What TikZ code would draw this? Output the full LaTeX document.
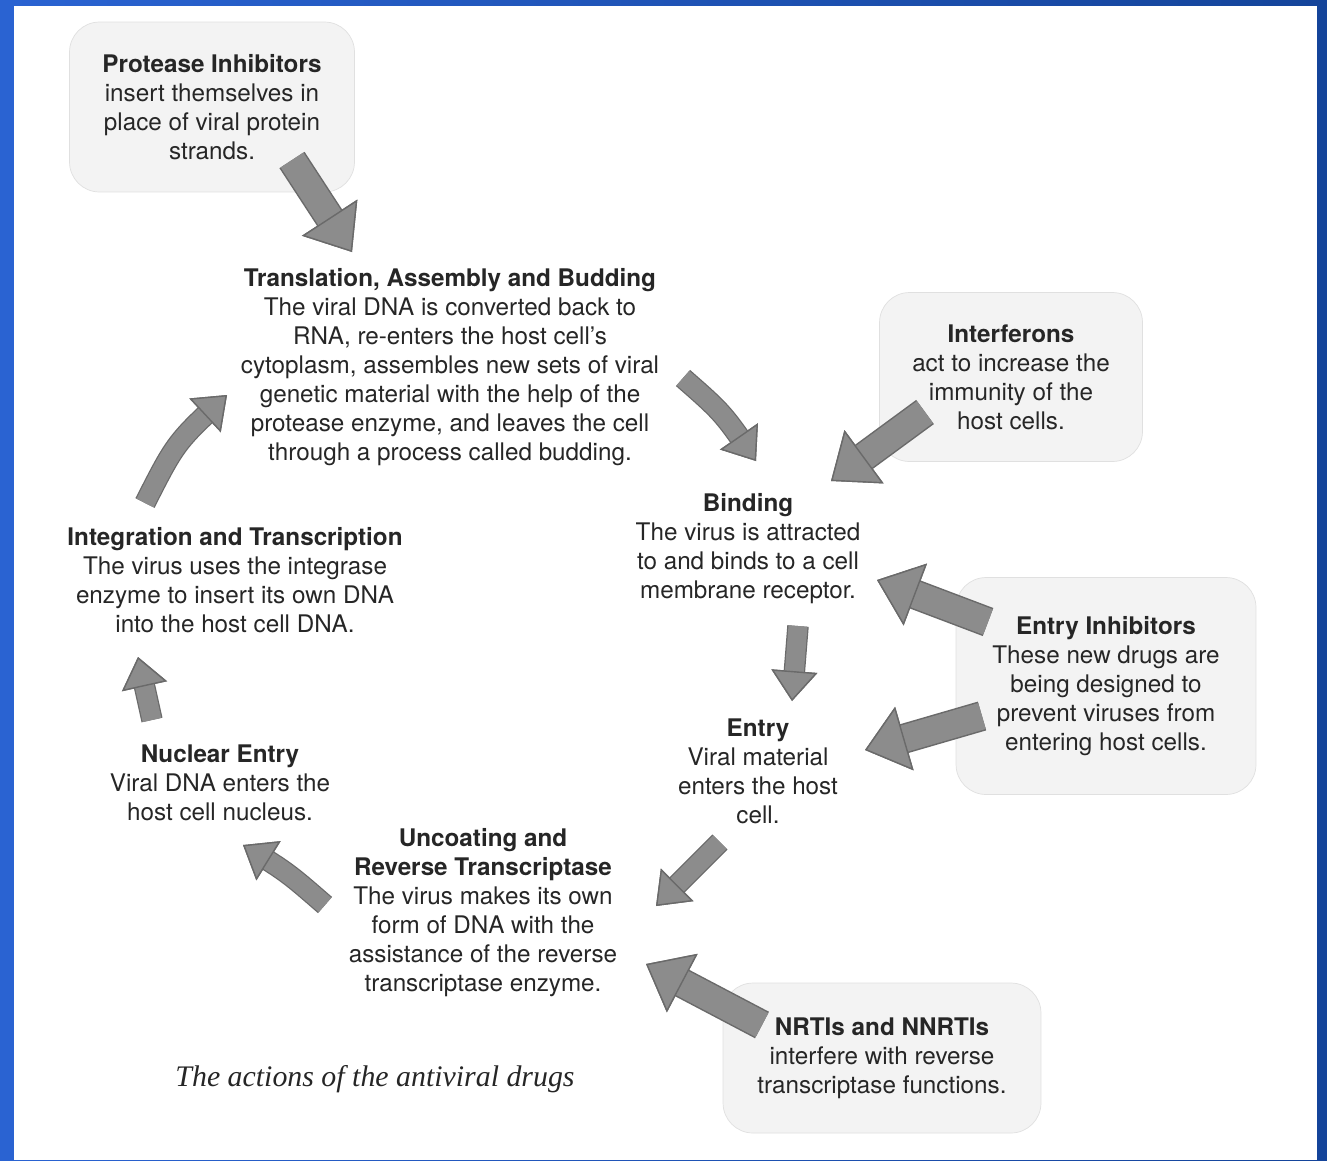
\documentclass[tikz,border=0pt]{standalone}
\usepackage{fontspec}
\setmainfont{TeX Gyre Heros}
\newfontfamily\capfont{Liberation Serif}
\usetikzlibrary{arrows.meta, bending, positioning}
\definecolor{bgleft}{HTML}{2A63D2}
\definecolor{bgright}{HTML}{14449A}
\definecolor{boxfill}{HTML}{F3F3F3}
\definecolor{boxedge}{HTML}{E0E0E0}
\definecolor{arrowfill}{HTML}{8C8C8C}
\definecolor{arrowedge}{HTML}{6A6A6A}
\definecolor{inktext}{HTML}{262626}
\tikzstyle{stage} = [align=center, inner sep=0pt, text=inktext, font=\fontsize{13.8}{16.5}\selectfont]
\tikzstyle{drugbox} = [stage, draw=boxedge, fill=boxfill, rounded corners=0.6cm]
\tikzstyle{bigarrow} = [draw=arrowfill, line width=0.54cm, preaction={draw=arrowedge, line width=0.6cm},
  -{Triangle[length=0.82cm, width=1.32cm, line width=0.8pt, color=arrowedge, fill=arrowfill]}]
\tikzstyle{cyclearrow} = [draw=arrowfill, line width=0.38cm, preaction={draw=arrowedge, line width=0.43cm},
  -{Triangle[length=0.6cm, width=0.92cm, line width=0.8pt, color=arrowedge, fill=arrowfill]}]

\begin{document}
\begin{tikzpicture}[x=0.02cm, y=-0.02cm]
	\useasboundingbox (0,0) rectangle (1327,1160);
	\shade[left color=bgleft, right color=bgright] (0,0) rectangle (1327,1160);
	\fill[white] (14,6) rectangle (1317,1160);

	% drug boxes
	\node[drugbox, minimum width=5.7cm, minimum height=3.4cm] (prot) at (212,107)
		{\textbf{Protease Inhibitors}\\insert themselves in\\place of viral protein\\strands.};
	\node[drugbox, minimum width=5.26cm, minimum height=3.38cm] (interf) at (1011,377)
		{\textbf{Interferons}\\act to increase the\\immunity of the\\host cells.};
	\node[drugbox, minimum width=6cm, minimum height=4.34cm] (entinh) at (1106,686)
		{\textbf{Entry Inhibitors}\\These new drugs are\\being designed to\\prevent viruses from\\entering host cells.};
	\node[drugbox, minimum width=6.36cm, minimum height=3cm] (nrti) at (882,1058)
		{\textbf{NRTIs and NNRTIs}\\interfere with reverse\\transcriptase functions.};

	% stages of the cycle
	\node[stage] (trans) at (450,367)
		{\textbf{Translation, Assembly and Budding}\\The viral DNA is converted back to\\RNA, re-enters the host cell’s\\cytoplasm, assembles new sets of viral\\genetic material with the help of the\\protease enzyme, and leaves the cell\\through a process called budding.};
	\node[stage] (bind) at (748,549)
		{\textbf{Binding}\\The virus is attracted\\to and binds to a cell\\membrane receptor.};
	\node[stage] (entry) at (758,771)
		{\textbf{Entry}\\Viral material\\enters the host\\cell.};
	\node[stage] (uncoat) at (483,913)
		{\textbf{Uncoating and}\\\textbf{Reverse Transcriptase}\\The virus makes its own\\form of DNA with the\\assistance of the reverse\\transcriptase enzyme.};
	\node[stage] (nuclear) at (220,783)
		{\textbf{Nuclear Entry}\\Viral DNA enters the\\host cell nucleus.};
	\node[stage] (integ) at (235,580)
		{\textbf{Integration and Transcription}\\The virus uses the integrase\\enzyme to insert its own DNA\\into the host cell DNA.};

	\node[anchor=base, text=inktext, font=\capfont\itshape\fontsize{17}{20}\selectfont] (caption) at (375,1086)
		{The actions of the antiviral drugs};

	% arrow ends
	\coordinate (prot-out) at (292,160);   \coordinate (trans-in) at (352,252);
	\coordinate (trans-out) at (683,378);  \coordinate (bind-in) at (756,461);
	\coordinate (interf-out) at (925,412); \coordinate (bind-in2) at (831,481);
	\coordinate (entinh-out) at (988,622); \coordinate (bind-in3) at (877,580);
	\coordinate (entinh-out2) at (982,716);\coordinate (entry-in2) at (865,750);
	\coordinate (bind-out) at (798,626);   \coordinate (entry-in) at (792,701);
	\coordinate (entry-out) at (720,842);  \coordinate (uncoat-in) at (656,906);
	\coordinate (nrti-out) at (762,1025);  \coordinate (uncoat-in2) at (646,964);
	\coordinate (uncoat-out) at (325,905); \coordinate (nuclear-in) at (243,845);
	\coordinate (nuclear-out) at (152,720);\coordinate (integ-in) at (138,657);
	\coordinate (integ-out) at (145,503);  \coordinate (trans-in2) at (227,395);

	% drug arrows
	\draw[bigarrow] (prot-out) -- (trans-in);
	\draw[bigarrow] (interf-out) -- (bind-in2);
	\draw[bigarrow] (entinh-out) -- (bind-in3);
	\draw[bigarrow] (entinh-out2) -- (entry-in2);
	\draw[bigarrow] (nrti-out) -- (uncoat-in2);

	% cycle arrows
	\draw[cyclearrow] (trans-out) .. controls (723,413) .. (bind-in);
	\draw[cyclearrow] (bind-out) -- (entry-in);
	\draw[cyclearrow] (entry-out) -- (uncoat-in);
	\draw[cyclearrow] (uncoat-out) .. controls (287,872) .. (nuclear-in);
	\draw[cyclearrow] (nuclear-out) -- (integ-in);
	\draw[cyclearrow] (integ-out) .. controls (176,442) .. (trans-in2);
\end{tikzpicture}
\end{document}
